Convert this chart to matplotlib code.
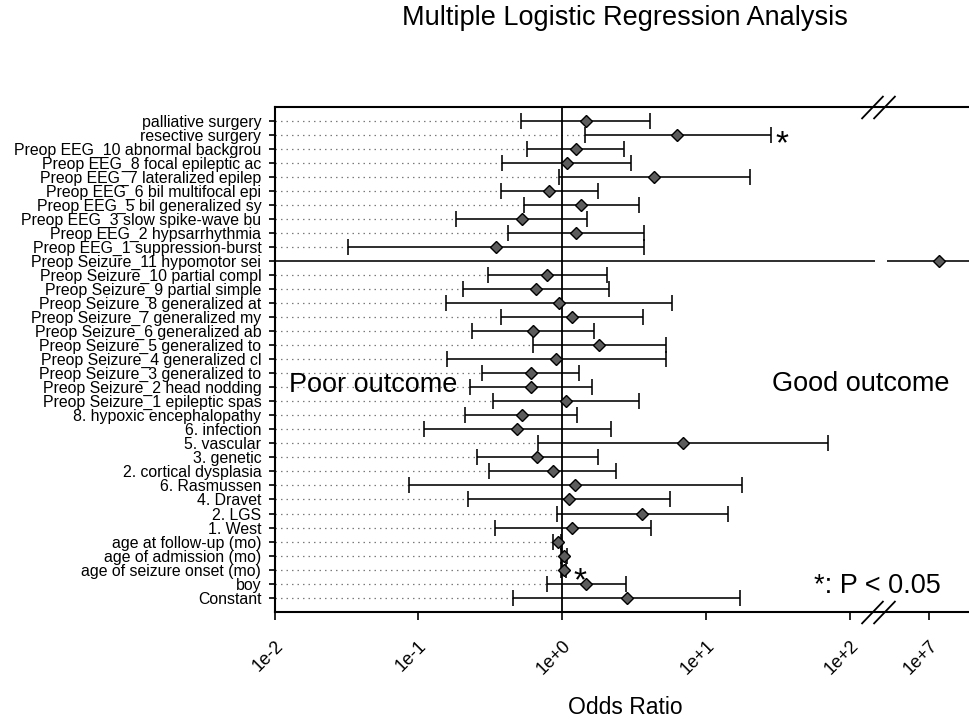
import numpy as np
import matplotlib
matplotlib.use("Agg")
import matplotlib.pyplot as plt
from matplotlib.path import Path
from matplotlib.ticker import FixedLocator, NullLocator

plt.rcParams['font.family'] = ['Liberation Sans', 'DejaVu Sans']

# ---- data ----
labels = [
    "palliative surgery", "resective surgery",
    "Preop EEG_10 abnormal backgrou", "Preop EEG_8 focal epileptic ac",
    "Preop EEG_7 lateralized epilep", "Preop EEG_6 bil multifocal epi",
    "Preop EEG_5 bil generalized sy", "Preop EEG_3 slow spike-wave bu",
    "Preop EEG_2 hypsarrhythmia", "Preop EEG_1 suppression-burst",
    "Preop Seizure_11 hypomotor sei", "Preop Seizure_10 partial compl",
    "Preop Seizure_9 partial simple", "Preop Seizure_8 generalized at",
    "Preop Seizure_7 generalized my", "Preop Seizure_6 generalized ab",
    "Preop Seizure_5 generalized to", "Preop Seizure_4 generalized cl",
    "Preop Seizure_3 generalized to", "Preop Seizure_2 head nodding",
    "Preop Seizure_1 epileptic spas", "8. hypoxic encephalopathy",
    "6. infection", "5. vascular", "3. genetic", "2. cortical dysplasia",
    "6. Rasmussen", "4. Dravet", "2. LGS", "1. West",
    "age at follow-up (mo)", "age of admission (mo)",
    "age of seizure onset (mo)", "boy", "Constant",
]
odds = [1.46, 6.34, 1.25, 1.08, 4.39, 0.816, 1.36, 0.53, 1.25, 0.346,
        1.17e7, 0.79, 0.656, 0.958, 1.18, 0.631, 1.82, 0.908, 0.608, 0.608,
        1.07, 0.525, 0.484, 6.98, 0.67, 0.861, 1.23, 1.12, 3.62, 1.18,
        0.94, 1.03, 1.03, 1.47, 2.82]
ci_low = [0.516, 1.445, 0.568, 0.385, 0.948, 0.375, 0.547, 0.184, 0.419, 0.0323,
          1e-4, 0.304, 0.206, 0.156, 0.376, 0.237, 0.625, 0.158, 0.278, 0.229,
          0.33, 0.211, 0.11, 0.684, 0.258, 0.31, 0.0863, 0.221, 0.919, 0.344,
          0.87, 0.99, 0.99, 0.782, 0.458]
ci_high = [4.09, 28.3, 2.71, 3.03, 20.3, 1.79, 3.41, 1.50, 3.74, 3.74,
           1e12, 2.05, 2.11, 5.82, 3.68, 1.68, 5.29, 5.29, 1.31, 1.61,
           3.45, 1.28, 2.19, 71.0, 1.79, 2.37, 17.8, 5.64, 14.2, 4.18,
           0.99, 1.09, 1.07, 2.77, 17.3]
significant = ["resective surgery", "age of seizure onset (mo)"]

tick_values = [1e-2, 1e-1, 1e0, 1e1, 1e2, 1e7]
tick_labels = ["1e-2", "1e-1", "1e+0", "1e+1", "1e+2", "1e+7"]

# broken log axis: 10^2.2 .. 10^6.65 is squeezed out
LOG_CUT = 2.2
LOG_RESUME = 6.651
GAP = LOG_RESUME - LOG_CUT
EPS = 1e-3


def fwd(x):
    lx = np.log10(np.maximum(x, 1e-300))
    mid = LOG_CUT + (lx - LOG_CUT) * EPS
    right = lx - GAP + GAP * EPS
    return np.where(lx <= LOG_CUT, lx, np.where(lx >= LOG_RESUME, right, mid))


def inv(u):
    u = np.asarray(u, dtype=float)
    top = LOG_CUT + GAP * EPS
    lx = np.where(u <= LOG_CUT, u,
                  np.where(u <= top, LOG_CUT + (u - LOG_CUT) / EPS, u + GAP - GAP * EPS))
    return 10.0 ** lx


odds = np.array(odds)
lo = np.array(ci_low)
hi = np.array(ci_high)
rows = np.arange(len(labels))

fig = plt.figure(figsize=(9.69, 7.21), dpi=100)
ax = fig.add_axes([274.5 / 969, 109 / 721, (969 - 274.5) / 969, 504.7 / 721])
ax.set_xscale('function', functions=(fwd, inv))
ax.set_xlim(1e-2, float(inv(2.83)))
ax.set_ylim(35.02, -0.955)

# dotted guide lines from the left edge to the lower limit
m = lo > 1e-2
ax.hlines(rows[m], 1e-2, lo[m], colors='#7a7a7a', linestyles=(0, (1.2, 3.2)),
          linewidth=0.9, zorder=1)

ax.axvline(1.0, color='black', lw=1.3, zorder=2)

ax.errorbar(odds, rows, xerr=[odds - lo, hi - odds], fmt='none', ecolor='black',
            elinewidth=1.15, capsize=5.5, capthick=1.15, zorder=3)
ax.plot(odds, rows, linestyle='none', marker='D', markersize=6.2,
        markerfacecolor='#5c5c5c', markeredgecolor='black', markeredgewidth=1.0,
        zorder=4)

# gap where the long bar crosses the axis break
for r in rows[hi > 10 ** LOG_RESUME]:
    ax.hlines(r, 10 ** (LOG_CUT - 0.024), 10 ** (LOG_RESUME + 0.052),
              colors='white', linewidth=3, zorder=3.5)

# significance stars
for name in significant:
    i = labels.index(name)
    dx = 3 if hi[i] - odds[i] > 1 else 5.5
    dy = -13.5 if hi[i] - odds[i] > 1 else -15
    ax.annotate("*", xy=(hi[i], rows[i]), xytext=(dx, dy), textcoords='offset points',
                fontsize=24, ha='left', va='baseline')

# break marks on top and bottom spines
slash = Path([(-17, -11.5), (5, 11.5), (-5, -11.5), (17, 11.5)],
             [Path.MOVETO, Path.LINETO, Path.MOVETO, Path.LINETO])
for yy in (0, 1):
    ax.plot([10 ** LOG_CUT], [yy], transform=ax.get_xaxis_transform(),
            marker=slash, markersize=24.5, markeredgewidth=1.3,
            color='black', clip_on=False, zorder=6)

ax.text(0.0209, 0.436, "Poor outcome", transform=ax.transAxes, fontsize=19.5,
        va='baseline', ha='left')
ax.text(0.7163, 0.438, "Good outcome", transform=ax.transAxes, fontsize=19.5,
        va='baseline', ha='left')
ax.text(0.7769, 0.0376, "*: P < 0.05", transform=ax.transAxes, fontsize=19.5,
        va='baseline', ha='left')

ax.xaxis.set_major_locator(FixedLocator(tick_values))
ax.xaxis.set_minor_locator(NullLocator())
ax.set_xticklabels(tick_labels)
ax.tick_params(axis='x', length=6, width=1.2, pad=12, labelsize=13, labelrotation=45)
plt.setp(ax.get_xticklabels(), ha='right', rotation_mode='anchor')

ax.set_yticks(rows)
ax.set_yticklabels(labels)
ax.tick_params(axis='y', length=4.5, width=1.2, pad=5, labelsize=11.4)

for s in ('top', 'left', 'bottom'):
    ax.spines[s].set_linewidth(1.5)
ax.spines['right'].set_visible(False)

fig.text(625 / 969, 1 - 25 / 721, "Multiple Logistic Regression Analysis",
         fontsize=19.5, ha='center', va='baseline')
fig.text(625 / 969, 1 - 714 / 721, "Odds Ratio", fontsize=16.5,
         ha='center', va='baseline')

fig.savefig("out.png", dpi=100)
